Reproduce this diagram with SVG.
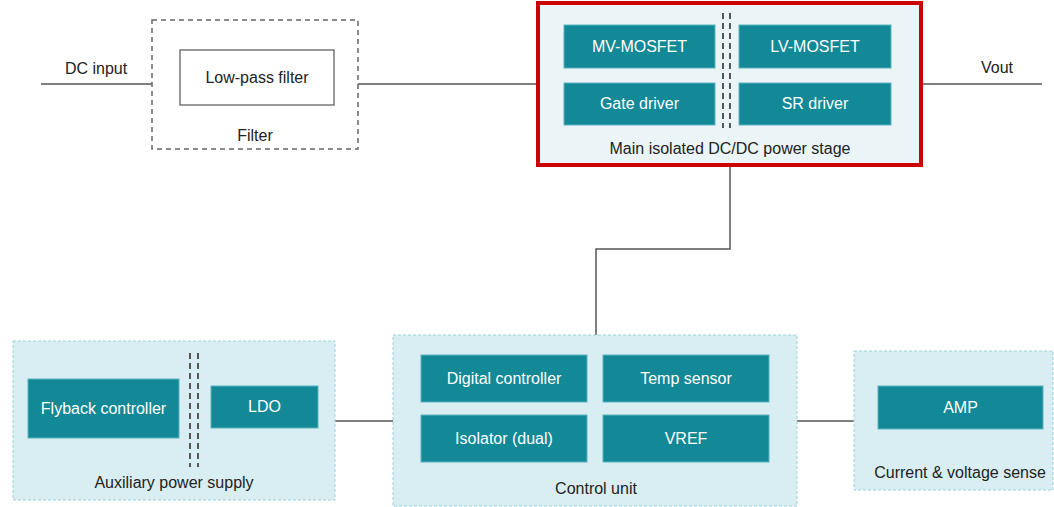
<svg xmlns="http://www.w3.org/2000/svg" width="1054" height="507" viewBox="0 0 1054 507">
<style>
text{font-family:"Liberation Sans",Arial,sans-serif;font-size:16px;text-anchor:middle}
.blk{fill:#138896;stroke:#5cb3bf;stroke-width:1}
.w{fill:#ffffff}
.grp{fill:#d9eef3;stroke:#9cd2db;stroke-width:1;stroke-dasharray:3 2}
.lbl{fill:#222222}
.iso{stroke:#555555;stroke-width:2;stroke-dasharray:6 4;fill:none}
.con{stroke:#555555;stroke-width:1.5;fill:none}
</style>
<rect width="1054" height="507" fill="#ffffff"/>
<g id="connectors">
<path class="con" d="M41 84H152"/>
<path class="con" d="M358 84H537"/>
<path class="con" d="M923 84H1042"/>
<path class="con" d="M730 167V249H596V336"/>
<path class="con" d="M335 421H393"/>
<path class="con" d="M797 421H854"/>
</g>
<text class="lbl" x="96" y="74">DC input</text>
<text class="lbl" x="997" y="73">Vout</text>
<g id="filter">
<rect x="152" y="20" width="206" height="129" fill="#ffffff" stroke="#666666" stroke-width="1.5" stroke-dasharray="5 4"/>
<rect x="180" y="50" width="154" height="55" fill="#ffffff" stroke="#555555" stroke-width="1.2"/>
<text class="lbl" x="257" y="83">Low-pass filter</text>
<text class="lbl" x="255" y="141">Filter</text>
</g>
<g id="main-stage">
<rect x="538" y="3" width="383" height="162" fill="#ebf5f7" stroke="#cc0000" stroke-width="4"/>
<path class="iso" d="M723 13V128M730 13V128"/>
<g id="mv-mosfet"><rect class="blk" x="564" y="25" width="151" height="43"/><text class="w" x="639.5" y="52">MV-MOSFET</text></g>
<g id="lv-mosfet"><rect class="blk" x="739" y="25" width="152" height="43"/><text class="w" x="815" y="52">LV-MOSFET</text></g>
<g id="gate-driver"><rect class="blk" x="564" y="83" width="151" height="42"/><text class="w" x="639.5" y="109">Gate driver</text></g>
<g id="sr-driver"><rect class="blk" x="739" y="83" width="152" height="42"/><text class="w" x="815" y="109">SR driver</text></g>
<text class="lbl" x="730" y="154">Main isolated DC/DC power stage</text>
</g>
<g id="aux-supply">
<rect class="grp" x="13" y="341" width="322" height="159"/>
<path class="iso" d="M190 353V467M198 353V467"/>
<g id="flyback"><rect class="blk" x="28" y="379" width="151" height="59"/><text class="w" x="103.5" y="414">Flyback controller</text></g>
<g id="ldo"><rect class="blk" x="211" y="386" width="107" height="42"/><text class="w" x="264.5" y="412">LDO</text></g>
<text class="lbl" x="174" y="488">Auxiliary power supply</text>
</g>
<g id="control-unit">
<rect class="grp" x="393" y="335" width="404" height="171"/>
<g id="digital-controller"><rect class="blk" x="421" y="355" width="166" height="47"/><text class="w" x="504" y="384">Digital controller</text></g>
<g id="temp-sensor"><rect class="blk" x="603" y="355" width="166" height="47"/><text class="w" x="686" y="384">Temp sensor</text></g>
<g id="isolator"><rect class="blk" x="421" y="415" width="166" height="47"/><text class="w" x="504" y="444">Isolator (dual)</text></g>
<g id="vref"><rect class="blk" x="603" y="415" width="166" height="47"/><text class="w" x="686" y="444">VREF</text></g>
<text class="lbl" x="596" y="494">Control unit</text>
</g>
<g id="sense">
<rect class="grp" x="854" y="351" width="199" height="139"/>
<g id="amp"><rect class="blk" x="878" y="386" width="165" height="43"/><text class="w" x="960.5" y="413">AMP</text></g>
<text class="lbl" x="960" y="478">Current &amp; voltage sense</text>
</g>
</svg>
